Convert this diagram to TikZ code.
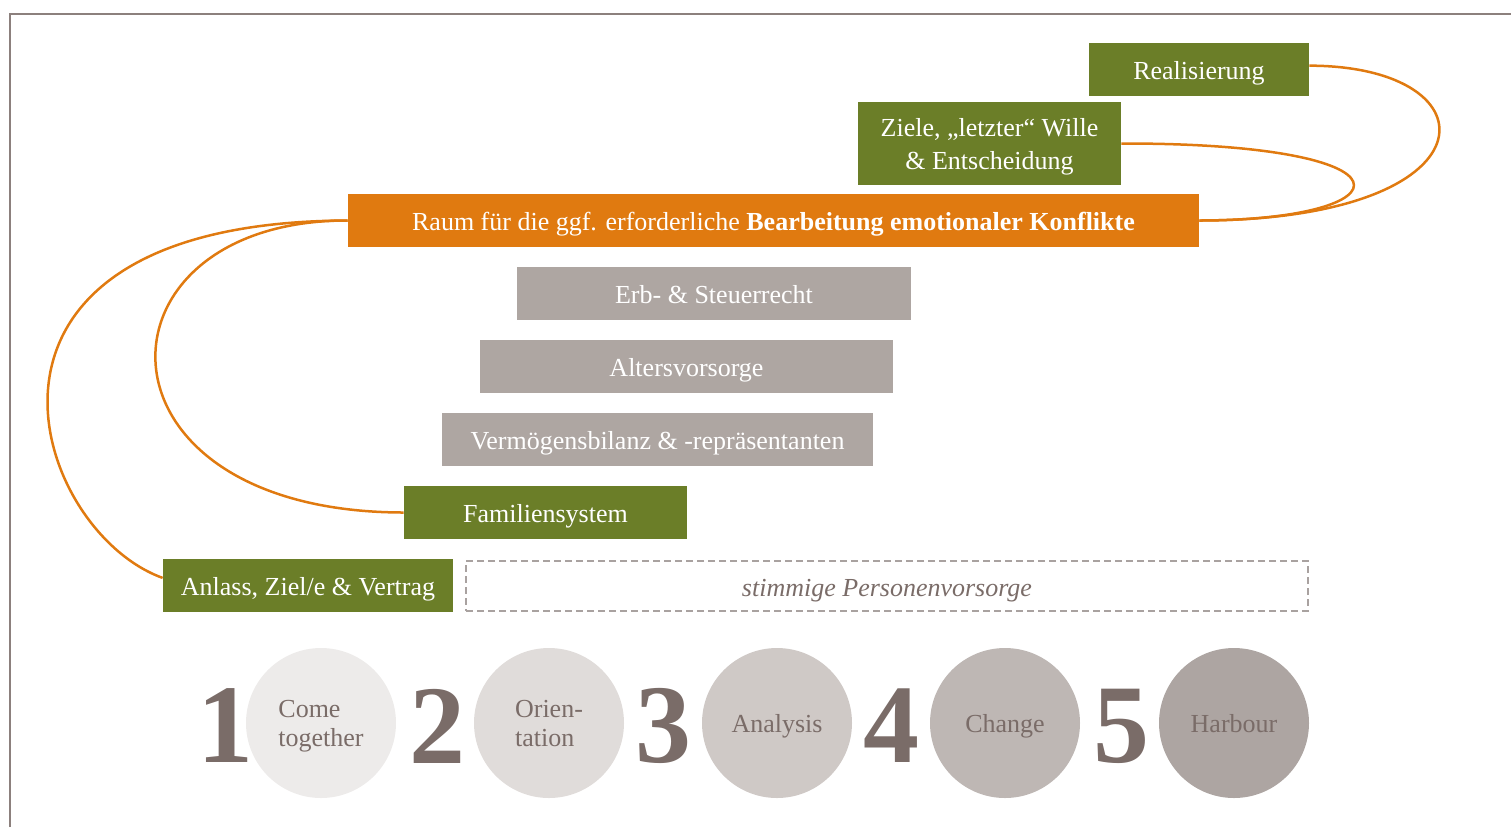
\documentclass[tikz,border=0pt]{standalone}
\usepackage{fontspec}
\setmainfont{Liberation Serif}

\definecolor{leafgreen}{HTML}{6B7E28}
\definecolor{konfliktorange}{HTML}{E07A10}
\definecolor{stonegray}{HTML}{AEA6A2}
\definecolor{dashgray}{HTML}{A9A2A0}
\definecolor{taupe}{HTML}{7A6C68}
\definecolor{framegray}{HTML}{8C807D}
\definecolor{phaseA}{HTML}{EDEBEA}
\definecolor{phaseB}{HTML}{E0DCDA}
\definecolor{phaseC}{HTML}{CFC9C6}
\definecolor{phaseD}{HTML}{BEB7B4}
\definecolor{phaseE}{HTML}{ADA5A2}

\begin{document}
\begin{tikzpicture}[
    x=0.5pt, y=-0.5pt,
    bar/.style={rectangle, inner sep=0pt, text centered, text=white, minimum height=26.5pt, text height=11pt, text depth=1pt, font=\fontsize{13}{15.5}\selectfont},
    green/.style={bar, fill=leafgreen},
    grey/.style={bar, fill=stonegray},
    phase/.style={circle, inner sep=0pt, minimum size=75pt, text=taupe, align=left, font=\fontsize{13}{14.5}\selectfont},
    num/.style={text=taupe, inner sep=0pt, font=\fontsize{56}{56}\selectfont\bfseries},
    link/.style={konfliktorange, line width=1.25pt}
]
\useasboundingbox (0,0) rectangle (1511,827);

% frame
\draw[framegray, line width=1pt] (10,827) -- (10,14) -- (1511,14);

% Boxes
\node[green, minimum width=110pt] (real) at (1199,69.5) {Realisierung};
\node[green, minimum width=131.5pt, minimum height=41.5pt, text height=, text depth=0pt, align=center] (ziele) at (989.5,143.5) {Ziele, „letzter“ Wille\\[1pt] \& Entscheidung};
\node[bar, fill=konfliktorange, minimum width=425.5pt] (raum) at (773.5,220.5) {Raum für die ggf. erforderliche \textbf{Bearbeitung emotionaler Konflikte}};
\node[grey, minimum width=197pt] (erb) at (714,293.5) {Erb- \& Steuerrecht};
\node[grey, minimum width=206.5pt] (alter) at (686.5,366.5) {Altersvorsorge};
\node[grey, minimum width=215.5pt] (verm) at (657.5,439.5) {Vermögensbilanz \& -repräsentanten};
\node[green, minimum width=141.5pt] (fam) at (545.5,512.5) {Familiensystem};
\node[green, minimum width=145pt] (anlass) at (308,585.5) {Anlass, Ziel/e \& Vertrag};
\node[draw=dashgray, dashed, line width=1pt, dash pattern=on 3.5pt off 2pt, minimum width=421pt, minimum height=25pt, inner sep=0pt, text height=11pt, text depth=1pt, text=taupe, font=\fontsize{13}{15.5}\selectfont\itshape] (person) at (887,586) {stimmige Personenvorsorge};

% Phases
\node[phase, fill=phaseA, text depth=0pt] (p1) at (321,723) {Come\\together};
\node[phase, fill=phaseB, text depth=0pt] (p2) at (549,723) {Orien-\\tation};
\node[phase, fill=phaseC, text height=9pt, text depth=0pt] (p3) at (777,723) {Analysis};
\node[phase, fill=phaseD, text height=9pt, text depth=0pt] (p4) at (1005,723) {Change};
\node[phase, fill=phaseE, text height=9pt, text depth=0pt] (p5) at (1234,723) {Harbour};

\node[num] (n1) at (225,726) {1};
\node[num] (n2) at (437,726) {2};
\node[num] (n3) at (663,726) {3};
\node[num] (n4) at (891,726) {4};
\node[num] (n5) at (1121,726) {5};

% Loops back to the conflict room
\draw[link] (real.2) .. controls (1498,66) and (1498,220) .. (raum.east);
\draw[link] (ziele.east) .. controls (1425,143) and (1410,220) .. (raum.east);
\draw[link] (raum.west) .. controls (-70,222) and (30,530) .. (anlass.177);
\draw[link] (raum.west) .. controls (85,220) and (80,512) .. (fam.west);

\end{tikzpicture}
\end{document}
